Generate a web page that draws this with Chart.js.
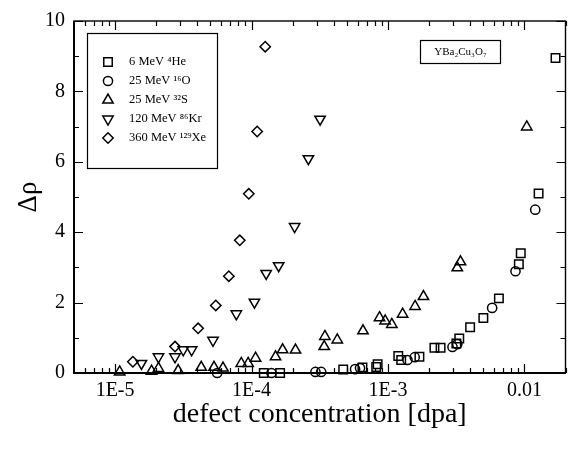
<!DOCTYPE html>
<html><head><meta charset="utf-8">
<script src="https://cdn.jsdelivr.net/npm/chart.js@4/dist/chart.umd.min.js"></script>
<style>html,body{margin:0;padding:0;background:#fff}#wrap{width:573px;height:449px}</style>
</head><body><div id="wrap"><canvas id="c" width="573" height="449"></canvas></div>
<script>
// ---- data ----
const seriesLabels = ['6 MeV \u2074He', '25 MeV \u00b9\u2076O', '25 MeV \u00b3\u00b2S', '120 MeV \u2078\u2076Kr', '360 MeV \u00b9\u00b2\u2079Xe'];
const heX = [1.23e-4, 1.62e-4, 4.7e-4, 6.5e-4, 8.2e-4, 8.4e-4, 1.19e-3, 1.25e-3, 1.70e-3, 2.19e-3, 2.43e-3, 3.17e-3, 3.33e-3, 4.0e-3, 5.0e-3, 6.5e-3, 9.1e-3, 9.4e-3, 0.0127, 0.0169];
const heY = [0, 0, 0.10, 0.16, 0.17, 0.25, 0.48, 0.37, 0.46, 0.72, 0.72, 0.84, 0.98, 1.30, 1.56, 2.12, 3.09, 3.40, 5.10, 8.95];
const oX = [5.6e-5, 1.40e-4, 2.94e-4, 3.24e-4, 5.74e-4, 6.24e-4, 1.39e-3, 1.57e-3, 2.97e-3, 3.22e-3, 5.8e-3, 8.6e-3, 0.0120];
const oY = [0, 0, 0.03, 0.03, 0.11, 0.14, 0.37, 0.45, 0.74, 0.82, 1.85, 2.89, 4.64];
const sX = [1.08e-5, 1.85e-5, 2.08e-5, 2.90e-5, 4.28e-5, 5.31e-5, 6.18e-5, 8.41e-5, 9.44e-5, 1.07e-4, 1.50e-4, 1.69e-4, 2.10e-4, 3.41e-4, 3.45e-4, 4.25e-4, 6.56e-4, 8.67e-4, 9.53e-4, 1.067e-3, 1.28e-3, 1.58e-3, 1.82e-3, 3.22e-3, 3.40e-3, 0.0104];
const sY = [0.03, 0.05, 0.13, 0.07, 0.16, 0.16, 0.14, 0.27, 0.27, 0.42, 0.46, 0.66, 0.65, 0.75, 1.04, 0.94, 1.20, 1.57, 1.48, 1.38, 1.67, 1.89, 2.17, 2.99, 3.16, 6.99];
const krX = [1.56e-5, 2.08e-5, 2.75e-5, 3.16e-5, 3.64e-5, 5.22e-5, 7.74e-5, 1.05e-4, 1.28e-4, 1.58e-4, 2.07e-4, 2.61e-4, 3.18e-4];
const krY = [0.27, 0.46, 0.46, 0.66, 0.66, 0.93, 1.68, 2.01, 2.83, 3.05, 4.16, 6.09, 7.21];
const xeX = [1.35e-5, 2.75e-5, 4.06e-5, 5.47e-5, 6.82e-5, 8.20e-5, 9.55e-5, 1.10e-4, 1.26e-4];
const xeY = [0.32, 0.75, 1.27, 1.92, 2.75, 3.77, 5.09, 6.86, 9.27];
const xTickValues = [1e-5, 1e-4, 1e-3, 1e-2];
const xTickLabels = ['1E-5', '1E-4', '1E-3', '0.01'];
const yTickValues = [0, 2, 4, 6, 8, 10];
const xTitle = 'defect concentration [dpa]';
const yTitle = '\u0394\u03c1';
const materialLabel = 'YBa\u2082Cu\u2083O\u2087';

// ---- styles ----
const SERIF = "'Liberation Serif', 'Times New Roman', serif";
const styles = [
  {pointStyle: 'rect', radius: 6, rotation: 0},
  {pointStyle: 'circle', radius: 4.6, rotation: 0},
  {pointStyle: 'triangle', radius: 6, rotation: 0},
  {pointStyle: 'triangle', radius: 6, rotation: 180},
  {pointStyle: 'rectRot', radius: 5.2, rotation: 0}
];
const xs = [heX, oX, sX, krX, xeX];
const ys = [heY, oY, sY, krY, xeY];

const datasets = seriesLabels.map((lab, i) => ({
  label: lab,
  data: xs[i].map((x, k) => ({x: x, y: ys[i][k]})),
  pointStyle: styles[i].pointStyle,
  pointRadius: styles[i].radius,
  pointRotation: styles[i].rotation,
  pointBorderWidth: 1.5,
  pointBorderColor: '#000',
  pointBackgroundColor: 'rgba(0,0,0,0)',
  showLine: false,
  clip: false
}));

function drawMarker(ctx, st, x, y) {
  ctx.beginPath();
  const r = st.radius;
  if (st.pointStyle === 'rect') {
    const s = Math.SQRT1_2 * r; ctx.rect(x - s, y - s, 2 * s, 2 * s);
  } else if (st.pointStyle === 'circle') {
    ctx.arc(x, y, r, 0, Math.PI * 2);
  } else if (st.pointStyle === 'triangle') {
    let rad = st.rotation * Math.PI / 180;
    for (let k = 0; k < 3; k++) {
      const px = x + Math.sin(rad) * r, py = y - Math.cos(rad) * r;
      if (k === 0) ctx.moveTo(px, py); else ctx.lineTo(px, py);
      rad += 2 * Math.PI / 3;
    }
    ctx.closePath();
  } else {
    ctx.moveTo(x - r, y); ctx.lineTo(x, y - r); ctx.lineTo(x + r, y); ctx.lineTo(x, y + r); ctx.closePath();
  }
  ctx.stroke();
}

const framePlugin = {
  id: 'framePlugin',
  afterDraw(chart) {
    const ctx = chart.ctx, a = chart.chartArea;
    const xsScale = chart.scales.x, ysScale = chart.scales.y;
    ctx.save();
    ctx.strokeStyle = '#000';
    ctx.lineWidth = 1.4;
    ctx.strokeRect(a.left, a.top, a.right - a.left, a.bottom - a.top);
    ctx.lineWidth = 2;
    ctx.beginPath();
    ctx.moveTo(a.left, a.top); ctx.lineTo(a.left, a.bottom); ctx.lineTo(a.right, a.bottom);
    ctx.stroke();
    ctx.lineWidth = 1.2;
    ctx.beginPath();
    // x ticks (log)
    for (let e = -6; e <= -1; e++) {
      for (let m = 1; m <= 9; m++) {
        const v = m * Math.pow(10, e);
        if (v < xsScale.min || v > xsScale.max) continue;
        const px = Math.round(xsScale.getPixelForValue(v)) + 0.5;
        const len = m === 1 ? 9 : 5;
        ctx.moveTo(px, a.bottom); ctx.lineTo(px, a.bottom - len);
        ctx.moveTo(px, a.top); ctx.lineTo(px, a.top + len);
      }
    }
    for (let v = 0; v <= 10; v++) {
      const py = Math.round(ysScale.getPixelForValue(v)) + 0.5;
      const len = v % 2 === 0 ? 9 : 5;
      ctx.moveTo(a.left, py); ctx.lineTo(a.left + len, py);
      ctx.moveTo(a.right, py); ctx.lineTo(a.right - len, py);
    }
    ctx.stroke();

    // legend box
    ctx.lineWidth = 1.2;
    ctx.strokeRect(87.5, 33.5, 130, 135);
    ctx.fillStyle = '#000';
    ctx.font = '12.5px ' + SERIF;
    ctx.textBaseline = 'middle';
    ctx.textAlign = 'left';
    for (let i = 0; i < seriesLabels.length; i++) {
      const y = 62 + i * 19;
      ctx.lineWidth = 1.5;
      drawMarker(ctx, styles[i], 108, y);
      ctx.fillText(seriesLabels[i], 129, y);
    }
    // material box
    ctx.lineWidth = 1.2;
    ctx.strokeRect(420.5, 40.5, 80, 23);
    ctx.font = '11px ' + SERIF;
    ctx.textAlign = 'center';
    ctx.fillText(materialLabel, 460.5, 52);
    ctx.restore();
  }
};

new Chart(document.getElementById('c'), {
  type: 'scatter',
  data: {datasets: datasets},
  options: {
    responsive: false,
    animation: false,
    devicePixelRatio: 1,
    layout: {padding: {left: 0, right: 4, top: 20, bottom: 0}},
    plugins: {legend: {display: false}, tooltip: {enabled: false}},
    scales: {
      x: {
        type: 'logarithmic',
        min: 5e-6, max: 0.02,
        grid: {display: false, drawTicks: false},
        border: {display: false},
        afterBuildTicks: s => { s.ticks = xTickValues.map(v => ({value: v})); },
        afterFit: s => { s.height = 76; },
        ticks: {
          color: '#000', padding: 6, maxRotation: 0, autoSkip: false,
          font: {family: SERIF, size: 20},
          callback: (v) => { const i = xTickValues.findIndex(t => Math.abs(t - v) / t < 1e-6); return i >= 0 ? xTickLabels[i] : ''; }
        },
        title: {display: true, text: xTitle, color: '#000', font: {family: SERIF, size: 28}, padding: {top: 0, bottom: 18}}
      },
      y: {
        min: 0, max: 10,
        grid: {display: false, drawTicks: false},
        border: {display: false},
        afterBuildTicks: s => { s.ticks = yTickValues.map(v => ({value: v})); },
        afterFit: s => { s.width = 74; },
        ticks: {color: '#000', padding: 9, font: {family: SERIF, size: 20}, callback: v => String(v)},
        title: {display: true, text: yTitle, color: '#000', font: {family: SERIF, size: 27}, padding: {top: 13, bottom: 0}}
      }
    }
  },
  plugins: [framePlugin]
});
</script>
</body></html>
